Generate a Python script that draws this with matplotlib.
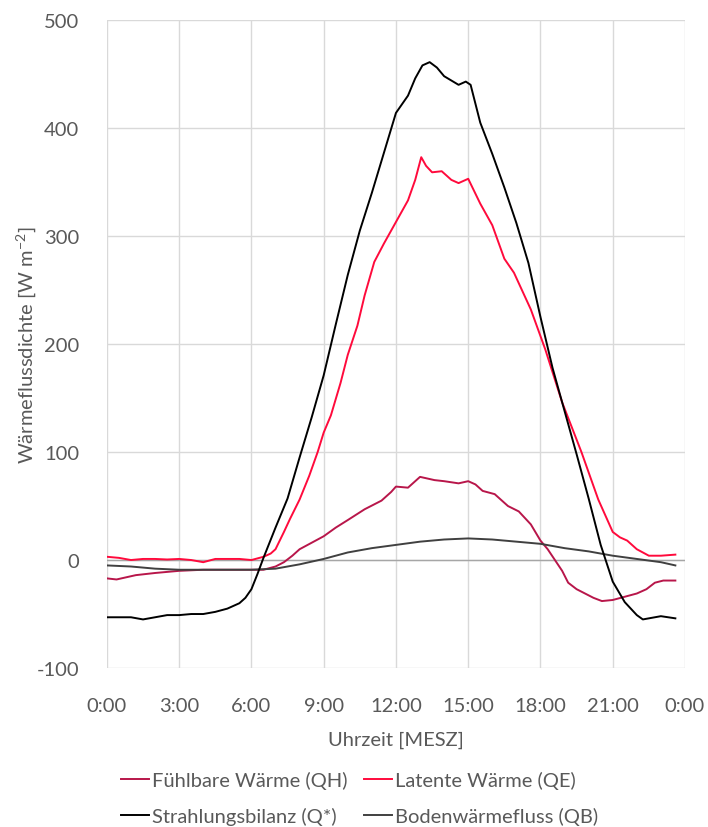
import matplotlib.pyplot as plt

# Strahlungsbilanz (Q*)
qs_t = [0, 0.5, 1.0, 1.5, 2.0, 2.5, 3.0, 3.5, 4.0, 4.5, 5.0, 5.5, 5.75, 6.0, 6.25, 6.5,
        7.0, 7.5, 8.0, 8.5, 9.0, 9.5, 10.0, 10.5, 11.0, 11.5, 12.0, 12.5, 12.8, 13.1,
        13.4, 13.7, 14.0, 14.3, 14.6, 14.9, 15.1, 15.5, 16.0, 16.5, 17.0, 17.5, 18.0,
        18.5, 19.0, 19.5, 20.0, 20.5, 21.0, 21.5, 22.0, 22.25, 22.5, 23.0, 23.6]
qs_v = [-53, -53, -53, -55, -53, -51, -51, -50, -50, -48, -45, -40, -35, -27, -13, 2,
        30, 57, 95, 132, 171, 218, 264, 305, 340, 377, 414, 430, 446, 458,
        461, 456, 448, 444, 440, 443, 440, 405, 376, 345, 312, 275, 225,
        178, 138, 98, 57, 14, -20, -39, -51, -55, -54, -52, -54]

# Latente Wärme (QE)
qe_t = [0, 0.5, 1.0, 1.5, 2.0, 2.5, 3.0, 3.5, 4.0, 4.5, 5.0, 5.5, 6.0, 6.5, 6.8, 7.0,
        7.35, 7.6, 8.0, 8.4, 8.75, 9.0, 9.3, 9.7, 10.0, 10.4, 10.7, 11.1, 11.5, 12.0,
        12.5, 12.8, 13.05, 13.25, 13.5, 13.9, 14.3, 14.6, 15.0, 15.5, 16.0, 16.5, 16.9,
        17.6, 18.2, 18.9, 19.7, 20.4, 21.0, 21.3, 21.6, 22.0, 22.5, 23.0, 23.6]
qe_v = [3, 2, 0, 1, 1, 0.5, 1, 0, -2, 1, 1, 1, 0, 3, 6, 10,
        26, 38, 56, 78, 100, 118, 134, 164, 190, 217, 245, 276, 293, 313,
        333, 352, 373, 365, 359, 360, 352, 349, 353, 330, 310, 279, 266,
        232, 195, 146, 100, 56, 26, 21, 18, 10, 4, 4, 5]

# Fühlbare Wärme (QH)
qh_t = [0, 0.4, 0.8, 1.2, 2.0, 3.0, 4.0, 5.0, 6.0, 6.5, 7.0, 7.35, 7.7, 8.0, 8.5, 9.0,
        9.5, 10.0, 10.7, 11.4, 11.8, 12.0, 12.5, 12.8, 13.0, 13.6, 14.0, 14.6, 15.0,
        15.3, 15.6, 16.1, 16.65, 17.1, 17.6, 18.0, 18.3, 18.6, 18.9, 19.15, 19.5, 19.85,
        20.2, 20.55, 21.0, 21.5, 22.0, 22.4, 22.75, 23.1, 23.6]
qh_v = [-17, -18, -16, -14, -12, -10, -9, -9, -9, -9, -6, -2, 4, 10, 16, 22,
        30, 37, 47, 55, 63, 68, 67, 73, 77, 74, 73, 71, 73,
        70, 64, 61, 50, 45, 33, 18, 10, 0, -10, -21, -27, -31,
        -35, -38, -37, -34, -31, -27, -21, -19, -19]

# Bodenwärmefluss (QB)
qb_t = [0, 1, 2, 3, 4, 5, 6, 7, 8, 9, 10, 11, 12, 13, 14, 15, 16, 17, 18, 19, 20, 21,
        22, 23, 23.6]
qb_v = [-5, -6, -8, -9, -9, -9, -9, -8, -4, 1, 7, 11, 14, 17, 19, 20, 19, 17, 15, 11,
        8, 4, 1, -2, -5]

tick_hours = [0, 3, 6, 9, 12, 15, 18, 21, 24]
tick_labels = ['0:00', '3:00', '6:00', '9:00', '12:00', '15:00', '18:00', '21:00', '0:00']

plt.rcParams['font.family'] = ['Lato', 'DejaVu Sans']
plt.rcParams['axes.unicode_minus'] = False
plt.rcParams['mathtext.default'] = 'regular'
txt = '#595959'
fs = 14.5

fig = plt.figure(figsize=(7.08, 8.28), dpi=100)
ax = fig.add_axes([0.151, 0.192, 0.8165, 0.7826])

l_qh, = ax.plot(qh_t, qh_v, color='#B8164A', lw=1.4, label='Fühlbare Wärme (QH)', zorder=3)
l_qe, = ax.plot(qe_t, qe_v, color='#FF0A3C', lw=1.4, label='Latente Wärme (QE)', zorder=3)
l_qs, = ax.plot(qs_t, qs_v, color='#000000', lw=1.4, label='Strahlungsbilanz (Q*)', zorder=4)
l_qb, = ax.plot(qb_t, qb_v, color='#404040', lw=1.4, label='Bodenwärmefluss (QB)', zorder=3)

ax.set_xlim(0, 24)
ax.set_ylim(-100, 500)
ax.set_xticks(tick_hours)
ax.set_xticklabels(tick_labels)
ax.set_yticks(range(-100, 501, 100))
ax.grid(True, color='#D9D9D9', lw=1)
ax.axhline(0, color='#A6A6A6', lw=1, zorder=2)
for s in ax.spines.values():
    s.set_visible(False)
ax.tick_params(length=0, labelsize=fs, colors=txt, pad=21)
ax.tick_params(axis='y', pad=20)

ax.set_ylabel('Wärmeflussdichte [W m$^{-2}$]', fontsize=fs, color=txt)
ax.yaxis.set_label_coords(-0.12, 0.5)
ax.set_xlabel('Uhrzeit [MESZ]', fontsize=fs, color=txt)
ax.xaxis.set_label_coords(0.5, -0.096)

# Excel-style legend: QH, QE on top row, Q*, QB below
fig.legend([l_qh, l_qs, l_qe, l_qb],
           [l.get_label() for l in (l_qh, l_qs, l_qe, l_qb)],
           loc='center', bbox_to_anchor=(0.508, 0.035), ncol=2, frameon=False,
           fontsize=fs, labelcolor=txt, handlelength=1.4, handletextpad=0.15,
           columnspacing=0.8, labelspacing=0.85)

fig.savefig('out.png', dpi=100)
